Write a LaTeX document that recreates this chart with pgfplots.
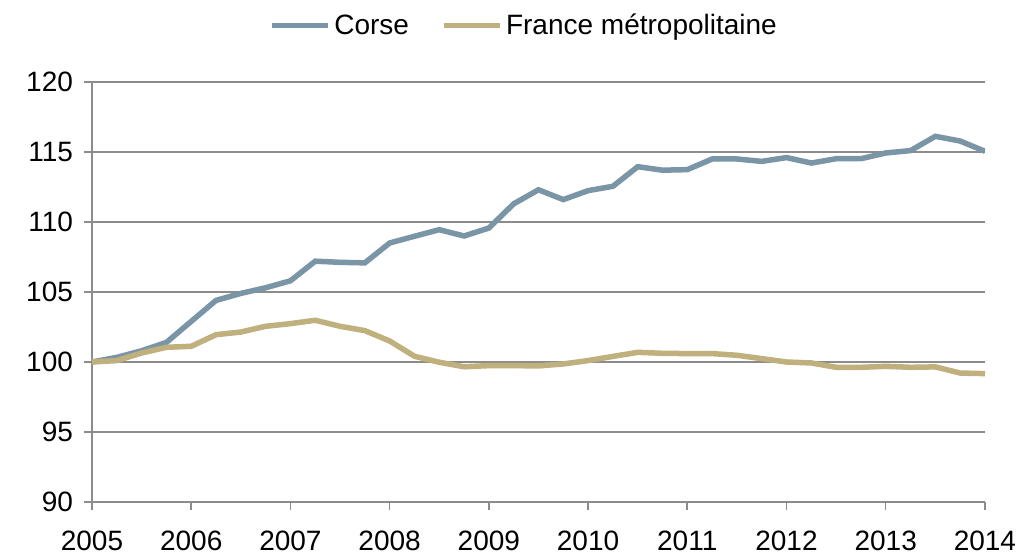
\documentclass[border=0pt]{standalone}
\usepackage{pgfplots}
\pgfplotsset{compat=1.18}
\usepackage{fontspec}
\setmainfont{Liberation Sans}
\definecolor{corse}{HTML}{7A95A6}
\definecolor{france}{HTML}{BFB07E}
\definecolor{gridc}{HTML}{8C8C8C}
\pgfplotstableread{
x corse france
2005.00 100.00 100.00
2005.25 100.33 100.10
2005.50 100.80 100.64
2005.75 101.40 101.05
2006.00 102.90 101.12
2006.25 104.40 101.95
2006.50 104.90 102.14
2006.75 105.30 102.55
2007.00 105.80 102.74
2007.25 107.20 102.98
2007.50 107.12 102.55
2007.75 107.08 102.24
2008.00 108.50 101.50
2008.25 108.98 100.41
2008.50 109.45 99.98
2008.75 109.00 99.66
2009.00 109.57 99.74
2009.25 111.30 99.74
2009.50 112.30 99.72
2009.75 111.60 99.86
2010.00 112.24 100.10
2010.25 112.55 100.40
2010.50 113.95 100.69
2010.75 113.70 100.62
2011.00 113.74 100.60
2011.25 114.50 100.60
2011.50 114.50 100.48
2011.75 114.33 100.24
2012.00 114.60 100.00
2012.25 114.21 99.93
2012.50 114.52 99.62
2012.75 114.52 99.62
2013.00 114.93 99.69
2013.25 115.10 99.62
2013.50 116.12 99.65
2013.75 115.78 99.21
2014.00 115.05 99.17
}\datatable
\begin{document}
\begin{tikzpicture}
\begin{axis}[
  name=ax,
  scale only axis,
  width=446.5pt, height=210pt,
  xmin=2005, xmax=2014, ymin=90, ymax=120,
  xtick={2005,...,2014}, ytick={90,95,...,120},
  axis x line*=bottom, axis y line*=left,
  axis line style={gridc, line width=1pt, -},
  ymajorgrids, grid style={gridc, line width=1pt},
  tick align=outside, major tick length=4pt,
  tick style={gridc, line width=0.8pt},
  x tick label style={/pgf/number format/1000 sep={}, font=\fontsize{14}{16}\selectfont, yshift=-7pt},
  y tick label style={font=\fontsize{14}{16}\selectfont, xshift=-2pt},
  /pgf/number format/assume math mode=true,
  legend style={at={(0.485,1)}, anchor=south, yshift=20pt, draw=none, fill=none,
    font=\fontsize{14}{16}\selectfont, legend columns=2,
    /tikz/every even column/.append style={column sep=14pt},
    legend cell align=left, inner sep=0pt},
  legend image code/.code={\draw[#1, line width=2.5pt] (0pt,0pt) -- (28pt,0pt);},
]
\addplot[corse, line width=2.75pt] table[x=x, y=corse] {\datatable};
\addlegendentry{Corse}
\addplot[france, line width=2.75pt] table[x=x, y=france] {\datatable};
\addlegendentry{France métropolitaine}
\end{axis}
\pgfresetboundingbox
\path[use as bounding box] ([shift={(-46pt,-26.5pt)}]ax.south west) rectangle ([shift={(18.5pt,41pt)}]ax.north east);
\end{tikzpicture}
\end{document}
